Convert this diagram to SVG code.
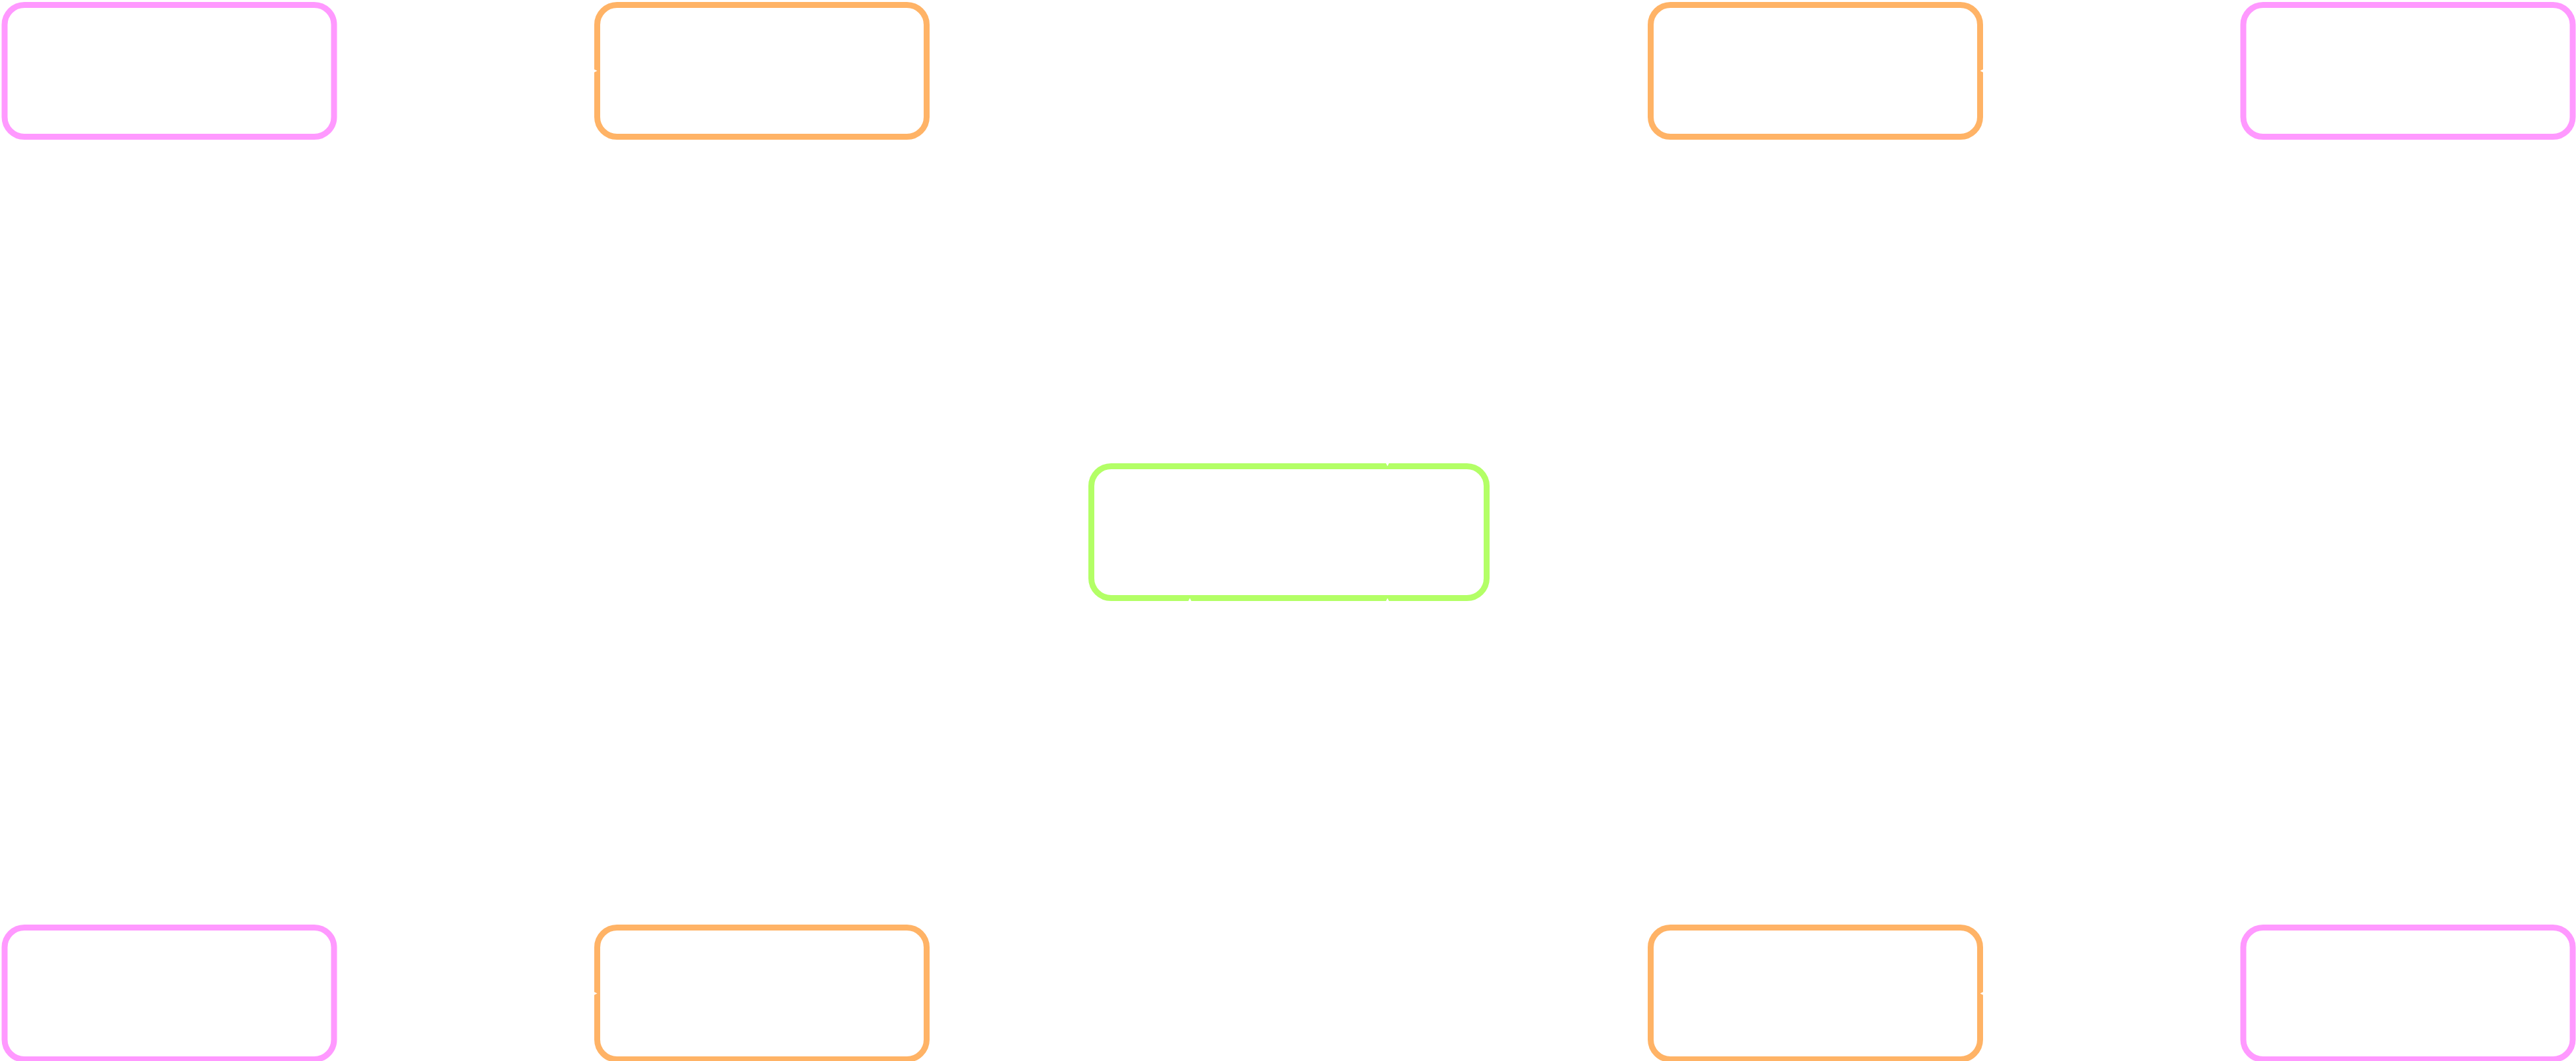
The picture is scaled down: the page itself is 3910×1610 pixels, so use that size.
<svg xmlns="http://www.w3.org/2000/svg" width="3910" height="1610" viewBox="0 0 3910 1610">
  <defs>
    <style>
      .node { fill: none; stroke-width: 9; }
      .pink { stroke: #FF99FF; }
      .orange { stroke: #FFB366; }
      .green { stroke: #B3FF66; }
      .edge { fill: none; stroke: #FFFFFF; stroke-width: 4; }
    </style>
    <marker id="arrow" viewBox="0 0 14 14" refX="6" refY="7" markerWidth="14" markerHeight="14" markerUnits="userSpaceOnUse" orient="auto">
      <path d="M0,0 L14,7 L0,14 z" fill="#FFFFFF"/>
    </marker>
  </defs>
  <rect x="0" y="0" width="3910" height="1610" fill="#FFFFFF"/>

  <g id="node-top-1"><rect class="node pink" x="7" y="7.5" width="500" height="200" rx="30" ry="30"/></g>
  <g id="node-top-2"><rect class="node orange" x="906.5" y="7.5" width="500" height="200" rx="30" ry="30"/></g>
  <g id="node-top-3"><rect class="node orange" x="2505.5" y="7.5" width="500" height="200" rx="30" ry="30"/></g>
  <g id="node-top-4"><rect class="node pink" x="3405" y="7.5" width="500" height="200" rx="30" ry="30"/></g>
  <g id="node-center"><rect class="node green" x="1656.5" y="707.5" width="600" height="200" rx="30" ry="30"/></g>
  <g id="node-bottom-1"><rect class="node pink" x="7" y="1407.5" width="500" height="200" rx="30" ry="30"/></g>
  <g id="node-bottom-2"><rect class="node orange" x="906.5" y="1407.5" width="500" height="200" rx="30" ry="30"/></g>
  <g id="node-bottom-3"><rect class="node orange" x="2505.5" y="1407.5" width="500" height="200" rx="30" ry="30"/></g>
  <g id="node-bottom-4"><rect class="node pink" x="3405" y="1407.5" width="500" height="200" rx="30" ry="30"/></g>

  <g id="connectors">
    <path class="edge" d="M512,107.5 L898.5,107.5" marker-end="url(#arrow)"/>
    <path class="edge" d="M3400,107.5 L3013.5,107.5" marker-end="url(#arrow)"/>
    <path class="edge" d="M512,1507.5 L898.5,1507.5" marker-end="url(#arrow)"/>
    <path class="edge" d="M3400,1507.5 L3013.5,1507.5" marker-end="url(#arrow)"/>
    <path class="edge" d="M2755.5,212.5 C2755.5,460 2106,460 2106,699.5" marker-end="url(#arrow)"/>
    <path class="edge" d="M1156.5,1402.5 C1156.5,1150 1806,1150 1806,915.5" marker-end="url(#arrow)"/>
    <path class="edge" d="M2755.5,1402.5 C2755.5,1150 2106,1150 2106,915.5" marker-end="url(#arrow)"/>
  </g>
</svg>
